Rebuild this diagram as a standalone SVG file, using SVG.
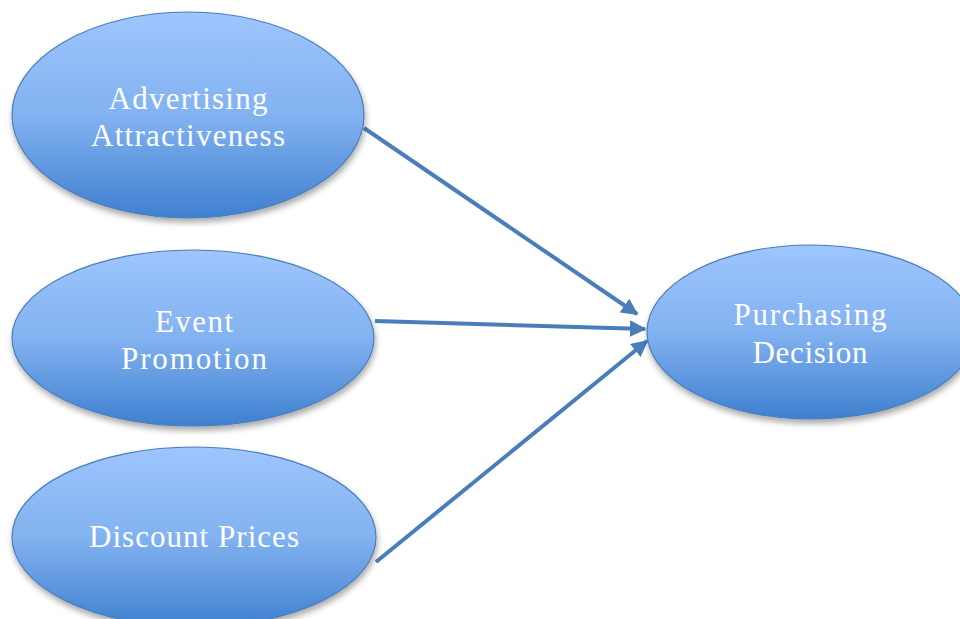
<svg xmlns="http://www.w3.org/2000/svg" width="960" height="619" viewBox="0 0 960 619">
<defs>
<linearGradient id="g" x1="0" y1="0" x2="0" y2="1">
<stop offset="0" stop-color="#9ec5fe"/>
<stop offset="0.5" stop-color="#82b2f0"/>
<stop offset="1" stop-color="#3f80d0"/>
</linearGradient>
<filter id="sh" x="-10%" y="-10%" width="120%" height="130%">
<feGaussianBlur in="SourceAlpha" stdDeviation="3"/>
<feOffset dx="1" dy="4" result="b"/>
<feComponentTransfer><feFuncA type="linear" slope="0.35"/></feComponentTransfer>
<feMerge><feMergeNode/><feMergeNode in="SourceGraphic"/></feMerge>
</filter>
<marker id="ah" viewBox="0 0 10 10" refX="9" refY="5" markerWidth="4.2" markerHeight="4.2" orient="auto" markerUnits="strokeWidth">
<path d="M0,0 L10,5 L0,10 Z" fill="#4a7ebb"/>
</marker>
</defs>
<style>
.node{fill:url(#g);stroke:#4a7ebb;stroke-width:1.2;filter:url(#sh)}
.lbl{font-family:"Liberation Serif","DejaVu Serif",serif;font-size:31px;fill:#ffffff;text-anchor:middle}
.edge{stroke:#4a7ebb;stroke-width:4;fill:none;marker-end:url(#ah)}
</style>
<rect width="960" height="619" fill="#ffffff"/>
<g id="connectors">
<line class="edge" x1="364" y1="128" x2="637" y2="314"/>
<line class="edge" x1="375" y1="321" x2="645" y2="329"/>
<line class="edge" x1="376" y1="562" x2="647" y2="341"/>
</g>
<g id="advertising">
<ellipse class="node" cx="188" cy="115" rx="176" ry="103"/>
<text class="lbl" x="188" y="109" textLength="159" lengthAdjust="spacing">Advertising</text>
<text class="lbl" x="188" y="146" textLength="194" lengthAdjust="spacing">Attractiveness</text>
</g>
<g id="event">
<ellipse class="node" cx="193" cy="338" rx="181" ry="88"/>
<text class="lbl" x="194" y="332" textLength="78" lengthAdjust="spacing">Event</text>
<text class="lbl" x="194" y="369" textLength="146" lengthAdjust="spacing">Promotion</text>
</g>
<g id="discount">
<ellipse class="node" cx="194" cy="537" rx="182" ry="90"/>
<text class="lbl" x="194" y="547" textLength="210" lengthAdjust="spacing">Discount Prices</text>
</g>
<g id="purchasing">
<ellipse class="node" cx="811" cy="332" rx="164" ry="87"/>
<text class="lbl" x="810" y="325" textLength="153" lengthAdjust="spacing">Purchasing</text>
<text class="lbl" x="810" y="363" textLength="115" lengthAdjust="spacing">Decision</text>
</g>
</svg>
